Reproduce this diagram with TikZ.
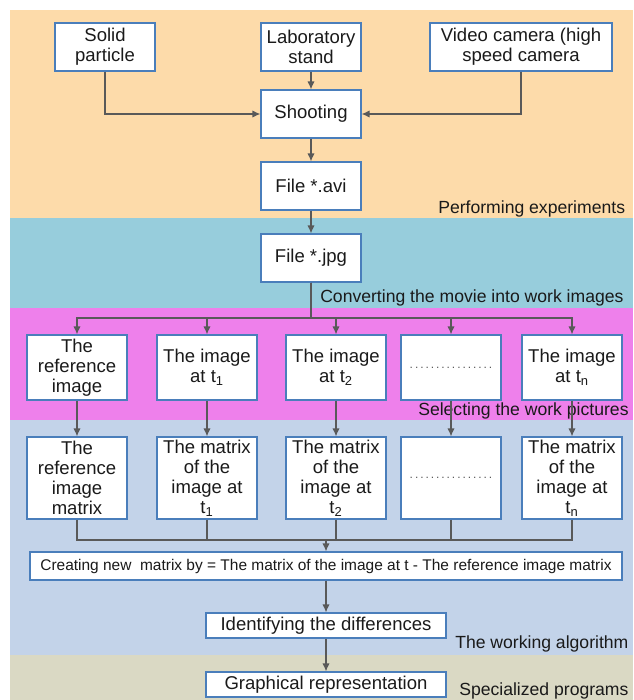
\documentclass[tikz,border=0pt]{standalone}
\usepackage{fontspec}
\setmainfont{Liberation Sans}
\usetikzlibrary{arrows.meta}
\definecolor{bandexp}{HTML}{FDDBAA}
\definecolor{bandconv}{HTML}{97CDDC}
\definecolor{bandsel}{HTML}{EE80EB}
\definecolor{bandalg}{HTML}{C3D3E9}
\definecolor{bandprog}{HTML}{DAD9C4}
\definecolor{boxblue}{HTML}{4A7EBB}
\definecolor{linegray}{HTML}{595959}
\definecolor{textdark}{HTML}{1A1A1A}
\begin{document}
\begin{tikzpicture}[x=0.75pt, y=-0.75pt, >={Latex[length=6pt,width=5.5pt]}, font=\fontsize{13.9}{15}\selectfont, text=textdark]
  \tikzstyle{box}=[rectangle, draw=boxblue, line width=0.8pt, fill=white, align=center, inner sep=0pt, minimum width=75pt, minimum height=36pt]
  \tikzstyle{wide}=[minimum width=136.5pt]
  \tikzstyle{rowone}=[minimum height=48.75pt]
  \tikzstyle{rowtwo}=[minimum height=61.5pt]
  \tikzstyle{arrow}=[->, draw=linegray, line width=1pt]
  \tikzstyle{stage}=[anchor=base west, inner sep=0pt, font=\fontsize{13.2}{15}\selectfont]

  \useasboundingbox (0,0) rectangle (633,700);
  \clip (0,0) rectangle (633,700);

  % stages
  \fill [bandexp] (10,10) rectangle (633,218);
  \fill [bandconv] (10,218) rectangle (633,308);
  \fill [bandsel] (10,308) rectangle (633,420);
  \fill [bandalg] (10,420) rectangle (633,655);
  \fill [bandprog] (10,655) rectangle (633,700);

  \node[stage] (sexp)  at (438,213) {Performing experiments};
  \node[stage] (sconv) at (320,302) {Converting the movie into work images};
  \node[stage] (ssel)  at (418,415) {Selecting the work pictures};
  \node[stage] (salg)  at (455,648) {The working algorithm};
  \node[stage] (sprog) at (459,695) {Specialized programs};

  \node[box] (solid) at (105,47) {Solid\\particle};
  \node[box] (stand) at (311,47) {Laboratory\\stand};
  \node[box,wide] (camera) at (521,47) {Video camera (high\\speed camera};
  \node[box] (shoot) at (311,114) {Shooting};
  \node[box] (avi) at (311,186) {File *.avi};
  \node[box] (jpg) at (311,258) {File *.jpg};

  \node[box,rowone] (ref)  at (77,367.5) {The\\reference\\image};
  \node[box,rowone] (img1) at (207,367.5) {The image\\at t\textsubscript{1}};
  \node[box,rowone] (img2) at (336,367.5) {The image\\at t\textsubscript{2}};
  \node[box,rowone] (imgd) at (451,367.5) {\color{linegray}\makebox[64pt]{\fontsize{9}{9}\selectfont\dotfill}};
  \node[box,rowone] (imgn) at (572,367.5) {The image\\at t\textsubscript{n}};

  \node[box,rowtwo] (refm) at (77,478) {The\\reference\\image\\matrix};
  \node[box,rowtwo] (mat1) at (207,478) {The matrix\\of the\\image at\\t\textsubscript{1}};
  \node[box,rowtwo] (mat2) at (336,478) {The matrix\\of the\\image at\\t\textsubscript{2}};
  \node[box,rowtwo] (matd) at (451,478) {\color{linegray}\makebox[64pt]{\fontsize{9}{9}\selectfont\dotfill}};
  \node[box,rowtwo] (matn) at (572,478) {The matrix\\of the\\image at\\t\textsubscript{n}};

  \node[box, minimum width=444pt, minimum height=21pt, font=\fontsize{11.6}{13}\selectfont] (diff) at (326,566) {Creating new \ matrix by = The matrix of the image at t - The reference image matrix};
  \node[box, minimum width=180pt, minimum height=18.75pt] (ident) at (326,625.5) {Identifying the differences};
  \node[box, minimum width=180pt, minimum height=18.75pt] (graph) at (326,684.5) {Graphical representation};

  \coordinate (fork) at (311,318);
  \coordinate (merge) at (326,540);

  \draw[arrow] (solid) |- (shoot);
  \draw[arrow] (stand) -- (shoot);
  \draw[arrow] (camera) |- (shoot);
  \draw[arrow] (shoot) -- (avi);
  \draw[arrow] (avi) -- (jpg);
  \foreach \n in {ref,img1,img2,imgd,imgn}
    \draw[arrow] (jpg) -- (fork) -| (\n);
  \foreach \a/\b in {ref/refm,img1/mat1,img2/mat2,imgd/matd,imgn/matn}
    \draw[arrow] (\a) -- (\b);
  \foreach \m in {refm,mat1,mat2,matd,matn}
    \draw[arrow,-] (\m) |- (merge);
  \draw[arrow] (merge) -- (diff);
  \draw[arrow] (diff) -- (ident);
  \draw[arrow] (ident) -- (graph);
\end{tikzpicture}
\end{document}
